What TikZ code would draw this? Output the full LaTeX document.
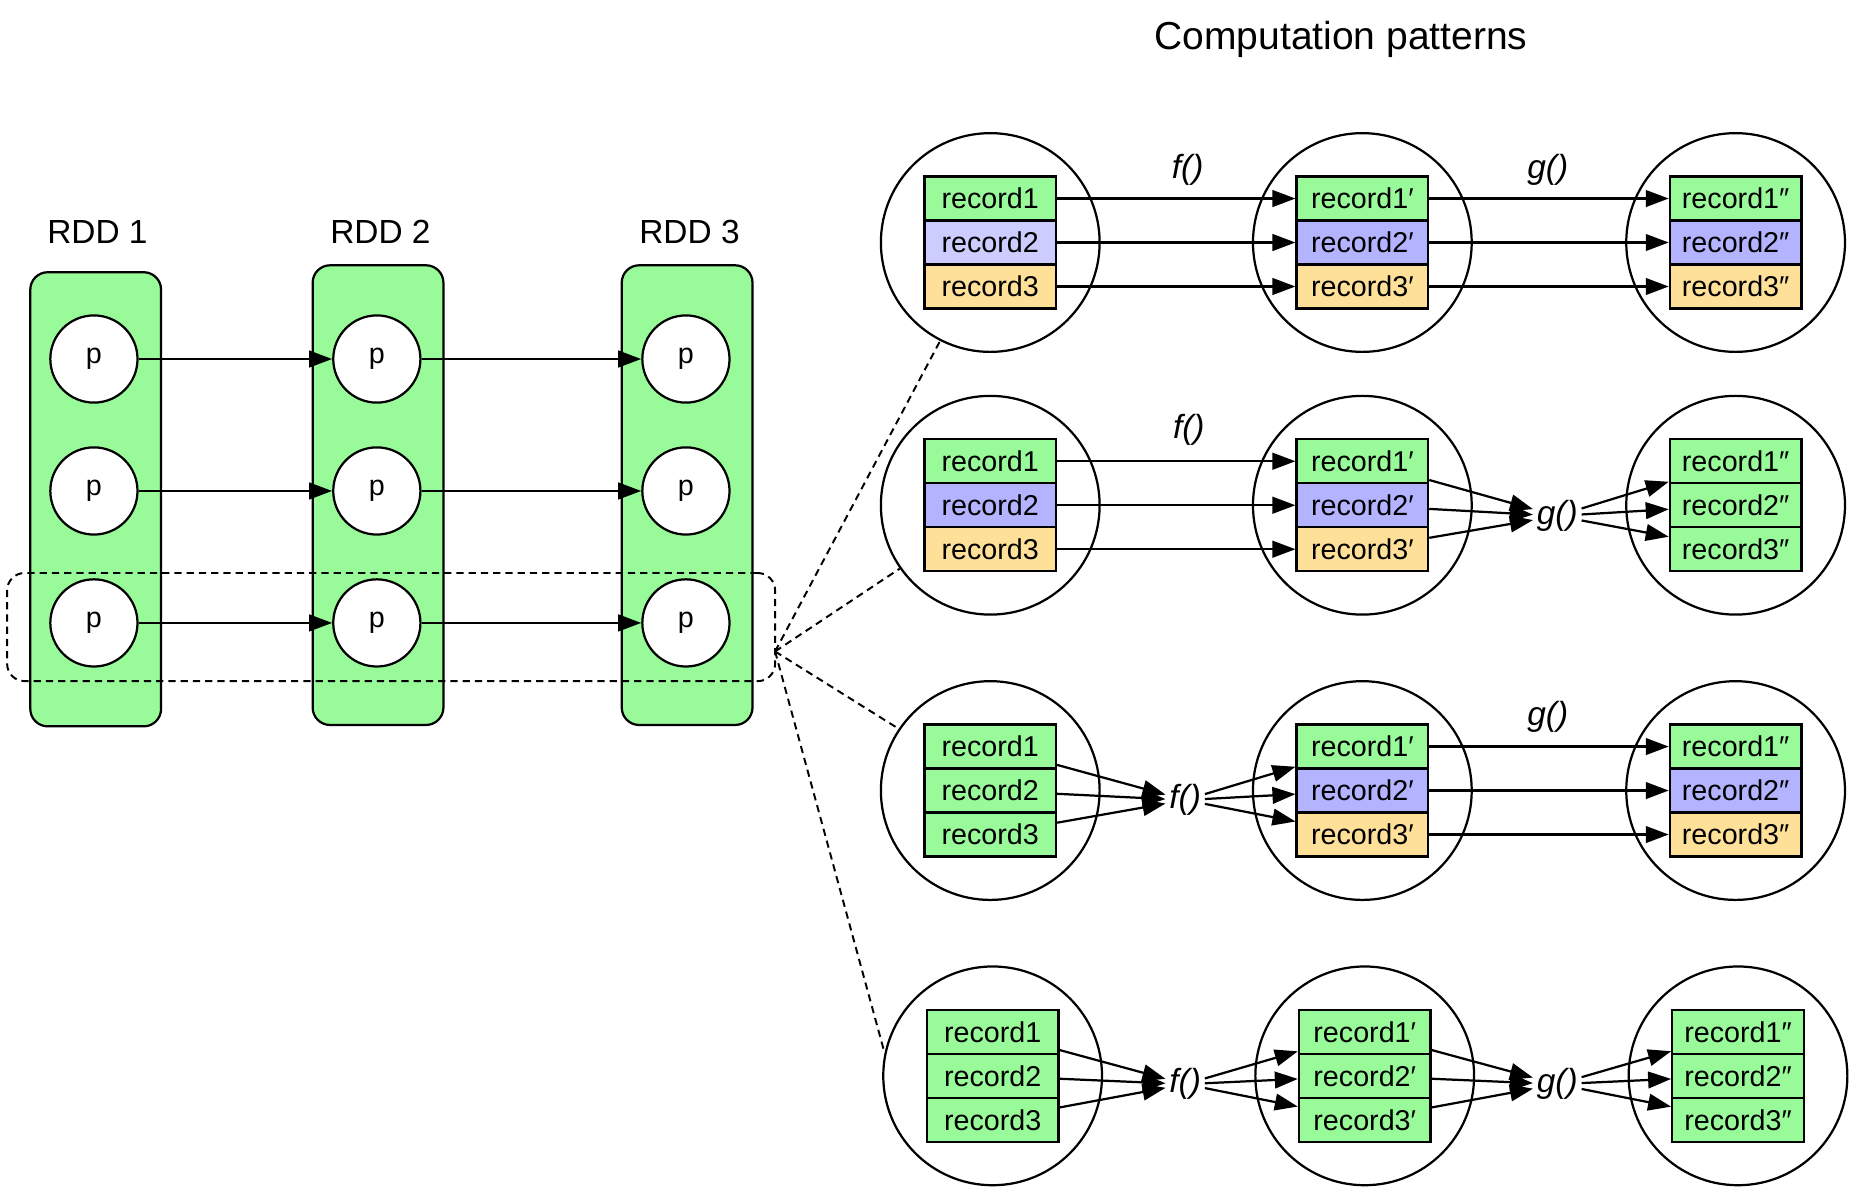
\documentclass[tikz,border=0pt]{standalone}
\usepackage{fontspec}
\setmainfont{Liberation Sans}
\usetikzlibrary{arrows.meta}
\definecolor{recgreen}{HTML}{99FA99}
\definecolor{recblue}{HTML}{B3B3FF}
\definecolor{recpale}{HTML}{CCCCFF}
\definecolor{recyellow}{HTML}{FFE099}
\begin{document}
\begin{tikzpicture}[x=0.015cm, y=-0.015cm, line width=0.8pt,
arr/.style={-{Triangle[length=0.29cm,width=0.21cm]}},
rdd/.style={draw, fill=recgreen, rounded corners=0.22cm, minimum width=1.65cm},
pnode/.style={draw, fill=white, circle, minimum size=1.1cm, inner sep=0pt},
blob/.style={draw, circle, minimum size=2.76cm},
rec/.style={draw, minimum width=1.66cm, minimum height=0.555cm, inner sep=0pt},
fn/.style={font=\fontsize{12}{14}\selectfont\itshape, inner sep=1pt},
sel/.style={dash pattern=on 2.6pt off 1.8pt, line width=0.7pt},
font=\fontsize{10.3}{12}\selectfont]
\useasboundingbox (0,0) rectangle (1568,1006);
\node[font=\fontsize{14}{16}\selectfont] (title) at (1128,33) {Computation patterns};
\node[rdd, minimum height=5.73cm] (rdd1) at (80.5,420) {};
\node[rdd, minimum height=5.8cm] (rdd2) at (318,416.5) {};
\node[rdd, minimum height=5.8cm] (rdd3) at (578,416.5) {};
\foreach \i/\xx in {1/82,2/320,3/580}
    \node[font=\fontsize{12}{14}\selectfont] (name\i) at (\xx,195) {RDD \i};
\node[draw, sel, rounded corners=0.22cm, minimum width=9.69cm, minimum height=1.365cm] (slice) at (329,527.5) {};
\foreach \j/\yy in {1/302,2/413,3/524} {
    \node[pnode] (p1\j) at (79,\yy) {p};
    \node[pnode] (p2\j) at (317,\yy) {p};
    \node[pnode] (p3\j) at (577,\yy) {p};
    \draw[arr] (p1\j) -- (p2\j);
    \draw[arr] (p2\j) -- (p3\j);
}
\foreach \n/\cx/\cy/\pr/\ca/\cb/\cc in {
    a1/833/204/{}/recgreen/recpale/recyellow, b1/1146/204/′/recgreen/recblue/recyellow, c1/1460/204/″/recgreen/recblue/recyellow,
    a2/833/425/{}/recgreen/recblue/recyellow, b2/1146/425/′/recgreen/recblue/recyellow, c2/1460/425/″/recgreen/recgreen/recgreen,
    a3/833/665/{}/recgreen/recgreen/recgreen, b3/1146/665/′/recgreen/recblue/recyellow, c3/1460/665/″/recgreen/recblue/recyellow,
    a4/835/905/{}/recgreen/recgreen/recgreen, b4/1148/905/′/recgreen/recgreen/recgreen, c4/1462/905/″/recgreen/recgreen/recgreen} {
    \node[blob] (\n) at (\cx,\cy) {};
    \node[rec, fill=\ca] (\n-1) at (\cx,\cy-37) {record1\pr};
    \node[rec, fill=\cb] (\n-2) at (\cx,\cy) {record2\pr};
    \node[rec, fill=\cc] (\n-3) at (\cx,\cy+37) {record3\pr};
}
\node[fn] (f1) at (999,143) {f()};
\node[fn] (g1) at (1302,143) {g()};
\node[fn] (f2) at (1000,362) {f()};
\node[fn] (g2) at (1310,434) {g()};
\node[fn] (f3) at (997,673) {f()};
\node[fn] (g3) at (1302,603) {g()};
\node[fn] (f4) at (997,912) {f()};
\node[fn] (g4) at (1310,912) {g()};
\foreach \i in {1,2,3} {
    \draw[arr] (a1-\i) -- (b1-\i);
    \draw[arr] (b1-\i) -- (c1-\i);
    \draw[arr] (a2-\i) -- (b2-\i);
    \draw[arr] (b2-\i) -- (g2);
    \draw[arr] (g2) -- (c2-\i);
    \draw[arr] (a3-\i) -- (f3);
    \draw[arr] (f3) -- (b3-\i);
    \draw[arr] (b3-\i) -- (c3-\i);
    \draw[arr] (a4-\i) -- (f4);
    \draw[arr] (f4) -- (b4-\i);
    \draw[arr] (b4-\i) -- (g4);
    \draw[arr] (g4) -- (c4-\i);
}
\coordinate (hub) at (652,548);
\foreach \n/\a in {a1/243,a2/215,a3/146,a4/168}
    \draw[sel] (hub) -- (\n.\a);
\end{tikzpicture}
\end{document}
